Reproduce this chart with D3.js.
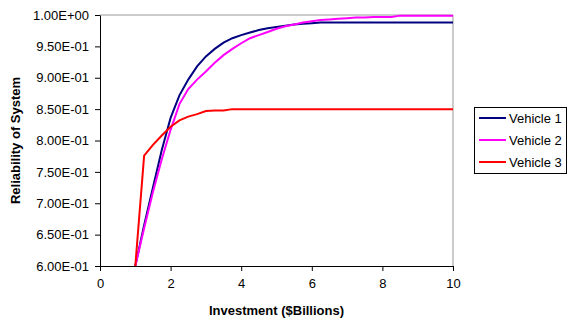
<!DOCTYPE html>
<html><head><meta charset="utf-8">
<script src="https://cdn.jsdelivr.net/npm/d3@7"></script>
<style>body{margin:0;background:#fff}svg{display:block}text{font-family:"Liberation Sans",Arial,sans-serif;fill:#000}</style>
</head><body><svg id="c" width="569" height="320"></svg>
<script>
const investment = [1,1.25,1.5,1.75,2,2.25,2.5,2.75,3,3.25,3.5,3.75,4,4.25,4.5,4.75,5,5.25,5.5,5.75,6,6.25,6.5,6.75,7,7.25,7.5,7.75,8,8.25,8.5,8.75,9,9.25,9.5,9.75,10];
const vehicle1 = [0.600,0.665,0.725,0.785,0.836,0.872,0.897,0.918,0.934,0.946,0.956,0.963,0.968,0.972,0.976,0.979,0.981,0.983,0.985,0.986,0.987,0.988,0.988,0.988,0.988,0.988,0.988,0.988,0.988,0.988,0.988,0.988,0.988,0.988,0.988,0.988,0.988];
const vehicle2 = [0.600,0.660,0.718,0.770,0.817,0.858,0.882,0.897,0.910,0.924,0.936,0.946,0.955,0.963,0.968,0.973,0.978,0.982,0.985,0.988,0.990,0.992,0.993,0.994,0.995,0.996,0.996,0.997,0.997,0.997,0.999,0.999,0.999,0.999,0.999,0.999,0.999];
const vehicle3 = [0.600,0.776,0.793,0.808,0.822,0.832,0.838,0.842,0.847,0.848,0.848,0.850,0.850,0.850,0.850,0.850,0.850,0.850,0.850,0.850,0.850,0.850,0.850,0.850,0.850,0.850,0.850,0.850,0.850,0.850,0.850,0.850,0.850,0.850,0.850,0.850,0.850];
const seriesNames = ["Vehicle 1","Vehicle 2","Vehicle 3"];
const seriesColors = ["#000080","#ff00ff","#ff0000"];
const xTicks = [0,2,4,6,8,10];
const yTicks = [0.60,0.65,0.70,0.75,0.80,0.85,0.90,0.95,1.00];
const xTitle = "Investment ($Billions)";
const yTitle = "Reliability of System";

const svg = d3.select("#c");
const L=100,R=453,T=15,B=266;
const x = d3.scaleLinear().domain([0,10]).range([L,R]);
const y = d3.scaleLinear().domain([0.6,1.0]).range([B,T]);

svg.append("path").attr("d",`M${L},${T}H${R}V${B}`).attr("fill","none").attr("stroke","#999").attr("stroke-width",1);

const fmt = v => { const s = v.toExponential(2).toUpperCase(); return s.replace(/E([+-])(\d)$/,"E$10$2"); };

const ya = svg.append("g").attr("transform",`translate(${L},0)`)
  .call(d3.axisLeft(y).tickValues(yTicks).tickSize(5).tickSizeOuter(0).tickPadding(6).tickFormat(fmt));
const xa = svg.append("g").attr("transform",`translate(0,${B})`)
  .call(d3.axisBottom(x).tickValues(xTicks).tickSize(5).tickSizeOuter(0).tickPadding(8).tickFormat(d3.format("d")));
[ya,xa].forEach(a=>{a.selectAll("path,line").attr("stroke","#000");a.selectAll("text").attr("font-size",13).attr("font-family","Liberation Sans, Arial, sans-serif").attr("fill","#000");});

const data = [vehicle1,vehicle2,vehicle3];
const line = d3.line().x((d,i)=>x(investment[i])).y(d=>y(d));
data.forEach((s,k)=>{
  svg.append("path").datum(s).attr("d",line).attr("fill","none").attr("stroke",seriesColors[k]).attr("stroke-width",2);
});

svg.append("text").attr("x",(L+R)/2).attr("y",315).attr("text-anchor","middle").attr("font-weight","bold").attr("font-size",13).text(xTitle);
svg.append("text").attr("transform",`translate(20,${(T+B)/2}) rotate(-90)`).attr("text-anchor","middle").attr("font-weight","bold").attr("font-size",13).text(yTitle);

const lg = svg.append("g");
lg.append("rect").attr("x",474.5).attr("y",107.5).attr("width",92).attr("height",66).attr("fill","#fff").attr("stroke","#000");
seriesNames.forEach((n,k)=>{
  const yy = 118 + k*22;
  lg.append("line").attr("x1",479).attr("x2",506).attr("y1",yy).attr("y2",yy).attr("stroke",seriesColors[k]).attr("stroke-width",2);
  lg.append("text").attr("x",509).attr("y",yy+4.5).attr("font-size",13).text(n);
});
</script></body></html>
